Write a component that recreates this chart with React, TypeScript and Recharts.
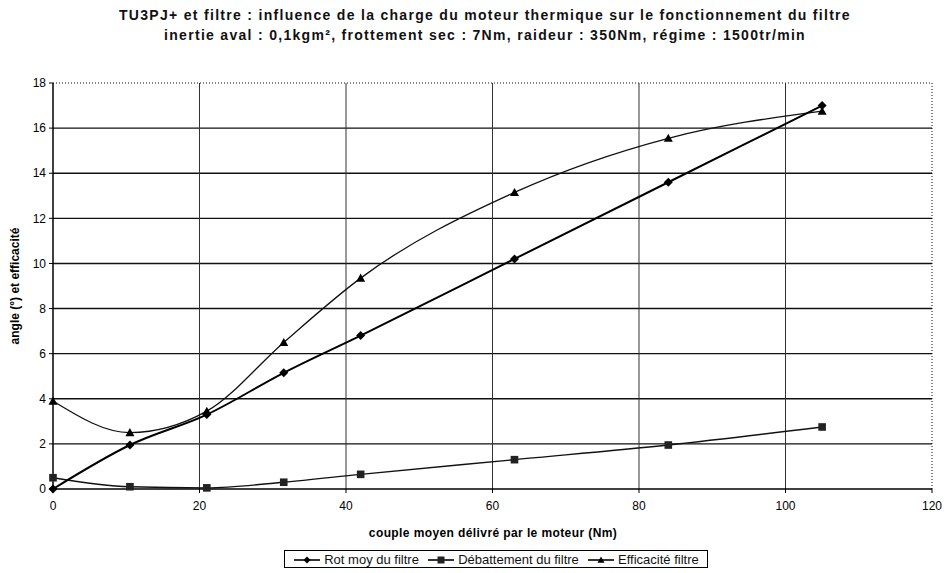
import React from "react";
import {
  LineChart,
  Line,
  XAxis,
  YAxis,
  ReferenceLine,
} from "recharts";

// couple moyen (Nm)
const couple = [0, 10.5, 21, 31.5, 42, 63, 84, 105];
const rotMoy = [0, 1.95, 3.3, 5.15, 6.8, 10.2, 13.6, 17.0];
const debattement = [0.5, 0.1, 0.05, 0.3, 0.65, 1.3, 1.95, 2.75];
const efficacite = [3.9, 2.5, 3.45, 6.5, 9.35, 13.15, 15.55, 16.75];

const xTicks = [0, 20, 40, 60, 80, 100, 120];
const yTicks = [0, 2, 4, 6, 8, 10, 12, 14, 16, 18];

const data = couple.map((c, i) => ({
  couple: c,
  rot: rotMoy[i],
  deb: debattement[i],
  eff: efficacite[i],
}));

const FONT = "'Liberation Sans', Arial, sans-serif";

const Diamond = ({ cx, cy, r = 4.5 }: any) => (
  <polygon
    points={`${cx},${cy - r} ${cx + r},${cy} ${cx},${cy + r} ${cx - r},${cy}`}
    fill="#000"
  />
);
const Square = ({ cx, cy, r = 3.8 }: any) => (
  <rect x={cx - r} y={cy - r} width={2 * r} height={2 * r} fill="#222" />
);
const Triangle = ({ cx, cy, r = 4.5 }: any) => (
  <polygon
    points={`${cx},${cy - r} ${cx + r},${cy + r * 0.8} ${cx - r},${cy + r * 0.8}`}
    fill="#000"
  />
);

const dotOf =
  (Shape: any) =>
  (props: any) =>
    (
      <g key={`dot-${props.dataKey}-${props.index}`}>
        <Shape cx={props.cx} cy={props.cy} />
      </g>
    );

const LegendIcon = ({ Shape }: any) => (
  <svg width={28} height={10} style={{ verticalAlign: "middle", marginRight: 3 }}>
    <line x1={1} y1={5} x2={27} y2={5} stroke="#000" strokeWidth={1.6} />
    <Shape cx={14} cy={5} r={3.5} />
  </svg>
);

const legendItems = [
  { name: "Rot moy du filtre", Shape: Diamond },
  { name: "Débattement du filtre", Shape: Square },
  { name: "Efficacité filtre", Shape: Triangle },
];

export default function App() {
  return (
    <div
      style={{
        position: "absolute",
        left: 0,
        top: 0,
        width: 947,
        height: 573,
        background: "#fff",
        fontFamily: FONT,
      }}
    >
      {/* titre */}
      <div
        style={{
          position: "absolute",
          left: 0,
          width: 970,
          top: 5,
          textAlign: "center",
          fontSize: 14,
          fontWeight: "bold",
          letterSpacing: 1.3,
          lineHeight: "20px",
          color: "#111",
        }}
      >
        TU3PJ+ et filtre : influence de la charge du moteur thermique sur le
        fonctionnement du filtre
        <br />
        inertie aval : 0,1kgm², frottement sec : 7Nm, raideur : 350Nm, régime :
        1500tr/min
      </div>

      <LineChart
        width={947}
        height={573}
        data={data}
        margin={{ top: 83, right: 15, bottom: 54, left: 0 }}
        style={{ fontFamily: FONT }}
      >
        {/* grille horizontale, la ligne du haut en pointillés */}
        {yTicks.slice(1).map((v) => (
          <ReferenceLine
            key={`h-${v}`}
            y={v}
            stroke="#111"
            strokeWidth={v === 18 ? 1 : 1.4}
            strokeDasharray={v === 18 ? "1 2" : undefined}
          />
        ))}
        {/* grille verticale, bord droit en pointillés */}
        {xTicks.slice(1).map((v) => (
          <ReferenceLine
            key={`v-${v}`}
            x={v}
            stroke={v === 120 ? "#111" : "#333"}
            strokeWidth={1}
            strokeDasharray={v === 120 ? "1 2" : undefined}
          />
        ))}
        <XAxis
          dataKey="couple"
          type="number"
          domain={[0, 120]}
          ticks={xTicks}
          axisLine={{ stroke: "#000", strokeWidth: 1.5 }}
          tickLine={{ stroke: "#000" }}
          tickSize={4}
          tickMargin={8}
          tick={{ fontSize: 12, fill: "#000", fontFamily: FONT }}
        />
        <YAxis
          type="number"
          domain={[0, 18]}
          ticks={yTicks}
          width={53}
          axisLine={{ stroke: "#000", strokeWidth: 1.5 }}
          tickLine={{ stroke: "#000" }}
          tickSize={4}
          tickMargin={3}
          tick={{ fontSize: 12, fill: "#000", fontFamily: FONT }}
        />
        <Line
          dataKey="deb"
          type="monotone"
          stroke="#111"
          strokeWidth={1.4}
          dot={dotOf(Square)}
          activeDot={false}
          isAnimationActive={false}
        />
        <Line
          dataKey="eff"
          type="monotone"
          stroke="#111"
          strokeWidth={1.3}
          dot={dotOf(Triangle)}
          activeDot={false}
          isAnimationActive={false}
        />
        <Line
          dataKey="rot"
          type="monotone"
          stroke="#000"
          strokeWidth={2}
          dot={dotOf(Diamond)}
          activeDot={false}
          isAnimationActive={false}
        />
      </LineChart>

      {/* titres des axes */}
      <div
        style={{
          position: "absolute",
          left: 15,
          top: 286,
          transform: "translate(-50%, -50%) rotate(-90deg)",
          fontSize: 12,
          fontWeight: "bold",
          whiteSpace: "nowrap",
          color: "#000",
        }}
      >
        angle (°) et efficacité
      </div>
      <div
        style={{
          position: "absolute",
          left: 493,
          top: 533,
          transform: "translate(-50%, -50%)",
          fontSize: 12,
          fontWeight: "bold",
          letterSpacing: 0.4,
          whiteSpace: "nowrap",
          color: "#000",
        }}
      >
        couple moyen délivré par le moteur (Nm)
      </div>

      {/* légende */}
      <div
        style={{
          position: "absolute",
          left: 284,
          top: 550,
          width: 422,
          height: 16,
          border: "1px solid #000",
          display: "flex",
          alignItems: "center",
          justifyContent: "space-evenly",
          fontSize: 13,
          color: "#111",
          whiteSpace: "nowrap",
        }}
      >
        {legendItems.map((it) => (
          <span key={it.name}>
            <LegendIcon Shape={it.Shape} />
            {it.name}
          </span>
        ))}
      </div>
    </div>
  );
}
